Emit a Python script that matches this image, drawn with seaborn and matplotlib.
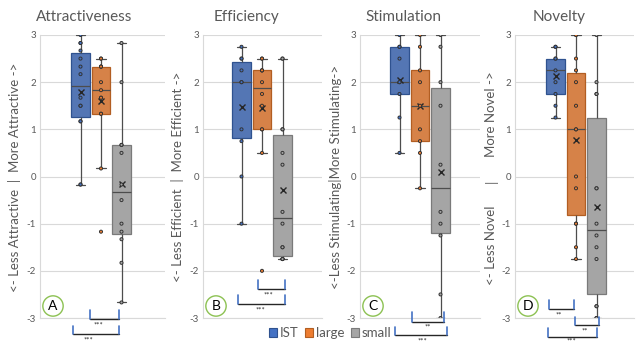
import numpy as np
import pandas as pd
import matplotlib
matplotlib.use("Agg")
import matplotlib.pyplot as plt
import seaborn as sns
from matplotlib.patches import Patch
from matplotlib.lines import Line2D

# ---------------- data ----------------
groups = ["IST", "large", "small"]
panel_titles = ["Attractiveness", "Efficiency", "Stimulation", "Novelty"]
panel_letters = ["A", "B", "C", "D"]
y_ticks = [-3, -2, -1, 0, 1, 2, 3]

attr_ist = [-0.17, -0.17, 1.17, 1.17, 1.5, 1.5, 1.67, 2.17, 2.33, 2.5, 2.67, 2.83, 2.83, 3.0]
attr_large = [-1.17, 0.17, 1.33, 1.33, 1.67, 1.67, 1.83, 2.0, 2.33, 2.33, 2.33, 2.5, 2.5]
attr_small = [-2.67, -1.83, -1.33, -1.17, -1.0, -0.5, -0.17, 0.5, 0.67, 0.67, 2.0, 2.83]

eff_ist = [-1.0, 0.0, 0.75, 1.0, 2.0, 2.0, 2.25, 2.5, 2.5, 2.75]
eff_large = [-2.0, 0.5, 1.0, 1.0, 1.5, 1.75, 2.0, 2.25, 2.25, 2.25, 2.5, 2.5]
eff_small = [-1.75, -1.75, -1.75, -1.75, -1.5, -1.5, -1.0, -0.75, 0.25, 0.5, 1.0, 1.0, 2.5, 2.5]

stim_ist = [0.5, 1.25, 1.75, 2.0, 2.0, 2.5, 2.75, 2.75, 3.0]
stim_large = [-0.25, 0.5, 0.75, 1.0, 1.5, 2.0, 2.25, 2.75, 3.0]
stim_small = [-3.0, -2.5, -1.25, -1.0, -0.75, 0.25, 1.5, 2.0, 2.75, 3.0]

nov_ist = [1.25, 1.5, 1.75, 2.0, 2.25, 2.5, 2.5, 2.75, 2.75]
nov_large = [-1.75, -1.5, -1.0, -1.0, -0.25, 0.0, 1.0, 1.0, 1.5, 2.0, 2.25, 2.5, 3.0, 3.0]
nov_small = [-3.0, -3.0, -2.75, -2.75, -1.75, -1.5, -1.25, -1.0, -0.25, -0.25, 1.75, 1.75, 2.0, 3.0]

panel_data = [
    [attr_ist, attr_large, attr_small],
    [eff_ist, eff_large, eff_small],
    [stim_ist, stim_large, stim_small],
    [nov_ist, nov_large, nov_small],
]

# significance brackets: (x0, x1, y_top, y_line, label, x_text, y_text) in pixels
brackets = [
    (90, 119, 310, 319, "***", 98, 325),
    (73, 119, 326, 334, "***", 88, 340),
    (258, 285, 280, 289, "***", 268, 295),
    (238, 285, 295, 304, "***", 260, 310),
    (412, 444, 312, 322, "**", 428, 327),
    (395, 447, 327, 335, "***", 422, 341),
    (549, 574, 300, 309, "**", 559, 315),
    (575, 599, 317, 325, "**", 585, 331),
    (548, 597, 328, 337, "***", 571, 341),
]

# ---------------- style ----------------
sns.set_theme(style="white")
plt.rcParams["font.family"] = ["Lato", "DejaVu Sans"]

fill_colors = ["#4472C4", "#ED7D31", "#A5A5A5"]
edge_colors = ["#2F528F", "#B25E22", "#7A7A7A"]
text_gray = "#595959"
grid_gray = "#D9D9D9"

W, H = 636, 344
fig = plt.figure(figsize=(W / 100, H / 100), dpi=100)

def fx(px):
    return px / W

def fy(py):
    return 1 - py / H

axes_px = [(40, 165), (203, 322), (360, 480), (515, 634)]
center_px = [101, 262, 420, 576]
title_x = [84, 246, 403, 559]
ylabel_x = [15, 177, 336, 491]
letter_x = [53, 216, 373, 528]
spacing = 20.5
top_px, bot_px = 35, 318

ylabels = [
    "<- Less Attractive  |  More Attractive ->",
    "<- Less Efficient  |  More Efficient ->",
    "<-Less Stimulating|More Stimulating->",
    None,
]

for i in range(4):
    x0, x1 = axes_px[i]
    ax = fig.add_axes([fx(x0), fy(bot_px), (x1 - x0) / W, (bot_px - top_px) / H])
    rows = []
    for g, vals in zip(groups, panel_data[i]):
        for v in vals:
            rows.append({"group": g, "value": v})
    df = pd.DataFrame(rows)

    sns.boxplot(
        data=df, x="group", y="value", hue="group", order=groups, hue_order=groups,
        palette=fill_colors, width=0.88, whis=1.5, showfliers=False,
        showmeans=True, linecolor="#4D4D4D", linewidth=0.9,
        meanprops=dict(marker="x", markeredgecolor="#262626", markersize=5, markeredgewidth=1.0),
        legend=False, ax=ax,
    )
    for j, p in enumerate(ax.patches):
        p.set_edgecolor(edge_colors[j % 3])
    sns.stripplot(
        data=df, x="group", y="value", hue="group", order=groups, hue_order=groups,
        palette=fill_colors, jitter=False, size=2.2, linewidth=0.7,
        edgecolor="#333333", legend=False, ax=ax, zorder=5,
    )

    ax.set_ylim(-3, 3)
    ax.set_xlim(1 - (center_px[i] - x0) / spacing, 1 + (x1 - center_px[i]) / spacing)
    ax.set_yticks(y_ticks)
    ax.set_yticklabels([str(t) for t in y_ticks], fontsize=7, color=text_gray)
    ax.tick_params(axis="y", length=0, pad=3)
    ax.set_xticks([])
    ax.set_xlabel("")
    ax.set_ylabel("")
    ax.grid(axis="y", color=grid_gray, linewidth=0.8)
    ax.set_axisbelow(True)
    for s in ["top", "right"]:
        ax.spines[s].set_visible(False)
    for s in ["left", "bottom"]:
        ax.spines[s].set_color(grid_gray)
        ax.spines[s].set_linewidth(0.8)

    fig.text(fx(title_x[i]), fy(17), panel_titles[i], ha="center", va="center",
             fontsize=11, color=text_gray)
    if ylabels[i] is not None:
        fig.text(fx(ylabel_x[i]), fy(177), ylabels[i], rotation=90, ha="center",
                 va="center", fontsize=9.5, color=text_gray)
    else:
        fig.text(fx(ylabel_x[i]), fy(114), "More Novel ->", rotation=90, ha="center",
                 va="center", fontsize=9.5, color=text_gray)
        fig.text(fx(ylabel_x[i]), fy(181), "|", rotation=90, ha="center",
                 va="center", fontsize=9.5, color=text_gray)
        fig.text(fx(ylabel_x[i]), fy(245), "<- Less Novel", rotation=90, ha="center",
                 va="center", fontsize=9.5, color=text_gray)

    fig.text(fx(letter_x[i]), fy(306), panel_letters[i], ha="center", va="center",
             fontsize=10, color="black",
             bbox=dict(boxstyle="circle,pad=0.3", fc="white", ec="#8CC152", lw=1.0))

for (x0, x1, yt, yl, lab, xt, ytx) in brackets:
    fig.add_artist(Line2D([fx(x0), fx(x1)], [fy(yl), fy(yl)], color="#262626", lw=1.0))
    fig.add_artist(Line2D([fx(x0), fx(x0)], [fy(yt), fy(yl)], color="#4472C4", lw=1.2))
    fig.add_artist(Line2D([fx(x1), fx(x1)], [fy(yt), fy(yl)], color="#4472C4", lw=1.2))
    fig.text(fx(xt), fy(ytx), lab, ha="center", va="center", fontsize=5.5, color="#262626")

handles = [Patch(facecolor=c, edgecolor=e, lw=0.8) for c, e in zip(fill_colors, edge_colors)]
fig.legend(handles, groups, loc="center", bbox_to_anchor=(fx(330), fy(333)), ncol=3,
           frameon=False, fontsize=9.5, handlelength=0.6, handleheight=0.6,
           handletextpad=0.2, columnspacing=0.5, labelcolor=text_gray)

fig.savefig("out.png", dpi=100)
